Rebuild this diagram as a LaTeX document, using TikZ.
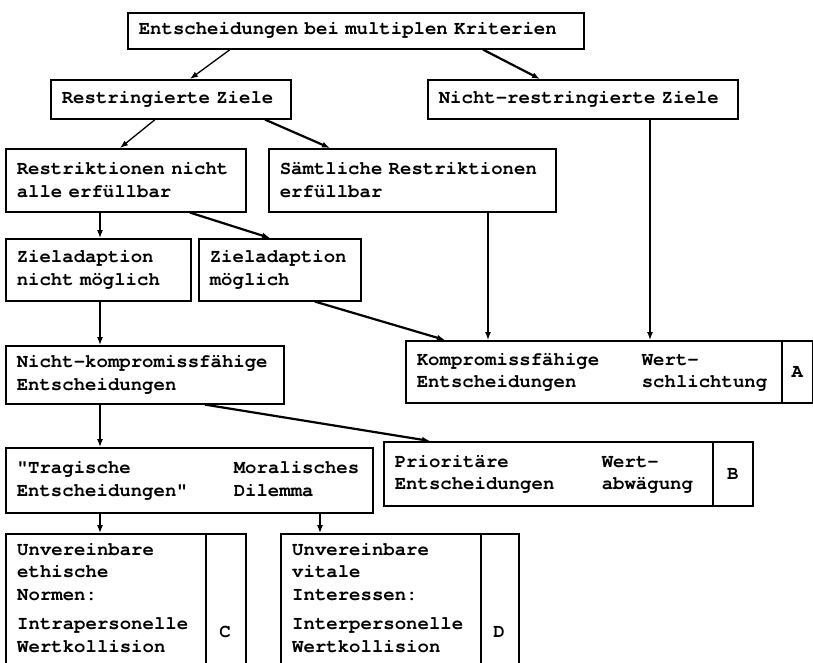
\documentclass[tikz,border=0pt]{standalone}
\usepackage{fontspec}
\newfontfamily\tw{texgyrecursor-bold.otf}
\usetikzlibrary{arrows.meta}
\newcommand\fs{\tw\fontsize{19}{22.5}\selectfont}
\tikzset{
  box/.style={draw, line width=1.6pt, inner xsep=11pt, inner ysep=0pt, anchor=north west, align=left, font=\fs},
  cell/.style={draw, line width=1.6pt, inner sep=0pt, anchor=north west, font=\fs},
  txt/.style={inner sep=0pt, align=left, font=\fs},
  arr/.style={-{Latex[length=8pt,width=6pt]}, line width=1.3pt},
  tarr/.style={-{Latex[length=8pt,width=6pt]}, line width=2.2pt},
}
\begin{document}
\begin{tikzpicture}[x=1pt,y=-1pt]
\useasboundingbox (0,0) rectangle (813,662);
\fill[white] (0,0) rectangle (813,662);
% boxes
\node[box, text width=434pt, minimum height=36pt] (top) at (127,12) {Entscheidungen bei multiplen Kriterien};
\node[box, text width=218pt, minimum height=39pt] (restr) at (50,79) {Restringierte Ziele};
\node[box, text width=288pt, minimum height=39pt] (nichtr) at (427,79) {Nicht-restringierte Ziele};
\node[box, text width=218pt, minimum height=63pt] (restrikt) at (5,148) {Restriktionen nicht\\alle erfüllbar};
\node[box, text width=265pt, minimum height=63pt] (saemtl) at (268,148) {Sämtliche Restriktionen\\erfüllbar};
\node[box, text width=163pt, minimum height=62pt] (zan) at (5,238) {Zieladaption\\nicht möglich};
\node[box, text width=140pt, minimum height=62pt] (zam) at (198,238) {Zieladaption\\möglich};
\node[box, text width=256pt, minimum height=58pt] (nk) at (5,345) {Nicht-kompromissfähige\\Entscheidungen};
\node[box, text width=354pt, minimum height=62pt] (kompr) at (405,340) {\begin{tabular}{@{}p{225pt}@{}l@{}}Kompromissfähige & Wert-\\Entscheidungen & schlichtung\end{tabular}};
\node[cell, minimum width=31pt, minimum height=62pt] (ca) at (781,340) {A};
\node[box, text width=345pt, minimum height=65pt] (trag) at (5,447) {\begin{tabular}{@{}p{217pt}@{}l@{}}"Tragische & Moralisches\\Entscheidungen" & Dilemma\end{tabular}};
\node[box, text width=307pt, minimum height=64pt] (prio) at (383,441) {\begin{tabular}{@{}p{207pt}@{}l@{}}Prioritäre & Wert-\\Entscheidungen & abwägung\end{tabular}};
\node[cell, minimum width=40pt, minimum height=64pt] (cb) at (712,441) {B};
\node[cell, minimum width=200pt, minimum height=131pt] (cbox) at (5,533) {};
\node[cell, minimum width=40pt, minimum height=131pt] (cc) at (205,533) {};
\node[cell, minimum width=200pt, minimum height=131pt] (dbox) at (280,533) {};
\node[cell, minimum width=38pt, minimum height=131pt] (cd) at (480,533) {};
\node[txt, anchor=north west] (ctext) at (17,543) {Unvereinbare\\ethische\\Normen:\\[7pt]Intrapersonelle\\Wertkollision};
\node[txt, anchor=north west] (dtext) at (292,543) {Unvereinbare\\vitale\\Interessen:\\[7pt]Interpersonelle\\Wertkollision};
\node[txt] (cl) at (225,632) {C};
\node[txt] (dl) at (499,632) {D};
% connectors
\draw[arr]  ([xshift=103pt]top.south west) -- ([xshift=140pt]restr.north west);
\draw[tarr] ([xshift=356pt]top.south west) -- ([xshift=113pt]nichtr.north west);
\draw[arr]  ([xshift=105pt]restr.south west) -- ([xshift=115pt]restrikt.north west);
\draw[tarr] ([xshift=215pt]restr.south west) -- ([xshift=62pt]saemtl.north west);
\draw[arr]  ([xshift=223pt]nichtr.south west) -- ([xshift=245pt]kompr.north west);
\draw[arr]  ([xshift=220pt]saemtl.south west) -- ([xshift=83pt]kompr.north west);
\draw[arr]  ([xshift=95pt]restrikt.south west) -- ([xshift=95pt]zan.north west);
\draw[tarr] ([xshift=185pt]restrikt.south west) -- ([xshift=72pt]zam.north west);
\draw[tarr] ([xshift=117pt]zam.south west) -- ([xshift=40pt]kompr.north west);
\draw[arr]  ([xshift=95pt]zan.south west) -- ([xshift=95pt]nk.north west);
\draw[arr]  ([xshift=95pt]nk.south west) -- ([xshift=95pt]trag.north west);
\draw[tarr] ([xshift=200pt]nk.south west) -- ([xshift=47pt]prio.north west);
\draw[arr]  ([xshift=95pt]trag.south west) -- ([xshift=95pt]cbox.north west);
\draw[arr]  ([xshift=315pt]trag.south west) -- ([xshift=40pt]dbox.north west);
\end{tikzpicture}
\end{document}
